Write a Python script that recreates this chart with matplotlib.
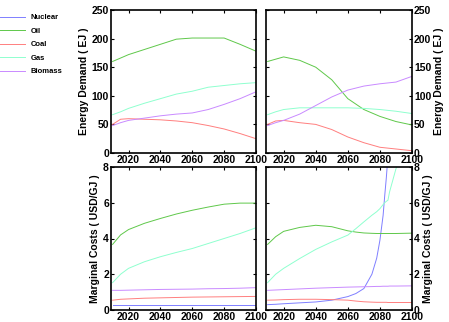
import matplotlib
matplotlib.use("Agg")
import matplotlib.pyplot as plt

plt.rcParams['font.family'] = ['Liberation Sans', 'DejaVu Sans']
plt.rcParams['font.weight'] = 'bold'

series_names = ["Nuclear", "Oil", "Coal", "Gas", "Biomass"]
colors = {"Nuclear": "#7f7fff", "Oil": "#5fc84a", "Coal": "#ff7f7f",
          "Gas": "#8fffcf", "Biomass": "#c98aff"}

# Energy demand (EJ) - left scenario
ed_left_years = [2010, 2015, 2020, 2030, 2040, 2050, 2060, 2070, 2080, 2090, 2100]
ed_left = {
    "Oil":     [160, 166, 172, 181, 190, 199, 201, 201, 201, 190, 178],
    "Coal":    [50, 59, 60, 59, 58, 56, 53, 48, 42, 34, 25],
    "Gas":     [67, 72, 78, 87, 95, 103, 108, 115, 118, 121, 123],
    "Biomass": [48, 53, 57, 61, 65, 68, 70, 76, 85, 95, 107],
}
# Energy demand (EJ) - right scenario
ed_right_years = [2010, 2015, 2020, 2030, 2040, 2050, 2060, 2070, 2080, 2090, 2100]
ed_right = {
    "Oil":     [160, 164, 168, 162, 150, 128, 95, 76, 64, 55, 49],
    "Coal":    [50, 56, 57, 53, 50, 41, 28, 18, 10, 7, 4],
    "Gas":     [67, 72, 76, 79, 79, 79, 79, 78, 76, 73, 69],
    "Biomass": [48, 53, 57, 68, 83, 98, 110, 117, 121, 124, 134],
}
# Marginal costs (USD/GJ) - left scenario
mc_left_years = [2010, 2015, 2020, 2030, 2040, 2050, 2060, 2070, 2080, 2090, 2100]
mc_left = {
    "Nuclear": [0.28, 0.28, 0.28, 0.28, 0.28, 0.28, 0.28, 0.28, 0.28, 0.28, 0.28],
    "Oil":     [3.67, 4.2, 4.5, 4.85, 5.12, 5.37, 5.58, 5.76, 5.92, 5.98, 5.98],
    "Coal":    [0.55, 0.6, 0.62, 0.66, 0.68, 0.7, 0.72, 0.73, 0.74, 0.75, 0.76],
    "Gas":     [1.53, 2.0, 2.33, 2.7, 2.98, 3.22, 3.44, 3.72, 4.0, 4.28, 4.6],
    "Biomass": [1.1, 1.1, 1.11, 1.13, 1.15, 1.16, 1.17, 1.19, 1.2, 1.22, 1.25],
}
# Marginal costs (USD/GJ) - right scenario
mc_right_years = [2010, 2015, 2020, 2030, 2040, 2050, 2060, 2065, 2070, 2075, 2078, 2080, 2082, 2083, 2084, 2085, 2086, 2090, 2100]
mc_right = {
    "Nuclear": [0.3, 0.32, 0.35, 0.4, 0.45, 0.55, 0.75, 0.92, 1.2, 2.0, 2.9, 3.9, 5.3, 6.4, 7.4, 8.6, 10.0, 16.0, 30.0],
    "Oil":     [3.67, 4.1, 4.4, 4.62, 4.74, 4.66, 4.43, 4.36, 4.31, 4.29, 4.28, 4.28, 4.28, 4.28, 4.28, 4.28, 4.28, 4.28, 4.3],
    "Coal":    [0.55, 0.56, 0.58, 0.6, 0.6, 0.58, 0.55, 0.5, 0.46, 0.44, 0.43, 0.43, 0.43, 0.43, 0.43, 0.42, 0.42, 0.42, 0.42],
    "Gas":     [1.53, 2.0, 2.33, 2.88, 3.39, 3.81, 4.19, 4.55, 4.93, 5.3, 5.5, 5.67, 5.9, 6.0, 6.08, 6.14, 6.6, 7.9, 10.0],
    "Biomass": [1.1, 1.12, 1.14, 1.18, 1.22, 1.25, 1.28, 1.29, 1.3, 1.31, 1.32, 1.32, 1.33, 1.33, 1.33, 1.33, 1.34, 1.34, 1.35],
}

xticks = [2020, 2040, 2060, 2080, 2100]
ed_ticks = [0, 50, 100, 150, 200, 250]
mc_ticks = [0, 2, 4, 6, 8]

W, H = 449, 322
fig = plt.figure(figsize=(W / 100, H / 100), dpi=100)

def rect(x0, y0, x1, y1):
    return [x0 / W, 1 - y1 / H, (x1 - x0) / W, (y1 - y0) / H]

ax_tl = fig.add_axes(rect(111, 10, 256, 153))
ax_tr = fig.add_axes(rect(266, 10, 412, 153))
ax_bl = fig.add_axes(rect(111, 167, 256, 310))
ax_br = fig.add_axes(rect(266, 167, 412, 310))

fs = 7.5
lw = 0.7

def plot_panel(ax, years, data, ylim, yticks, right=False):
    handles = []
    for name in series_names:
        if name in data:
            h, = ax.plot(years, data[name], color=colors[name], lw=lw, label=name)
            handles.append(h)
    ax.set_xlim(2009, 2100)
    ax.set_ylim(*ylim)
    ax.set_xticks(xticks)
    ax.set_yticks(yticks)
    ax.tick_params(direction='in', length=2, width=0.8, top=True, right=True,
                   labelsize=fs, pad=1.5)
    if right:
        ax.tick_params(labelleft=False, labelright=True)
    for lab in ax.get_xticklabels() + ax.get_yticklabels():
        lab.set_fontweight('bold')
    for s in ax.spines.values():
        s.set_linewidth(1.2)
    return handles

plot_panel(ax_tl, ed_left_years, ed_left, (0, 250), ed_ticks)
plot_panel(ax_tr, ed_right_years, ed_right, (0, 250), ed_ticks, right=True)
handles = plot_panel(ax_bl, mc_left_years, mc_left, (0, 8), mc_ticks)
plot_panel(ax_br, mc_right_years, mc_right, (0, 8), mc_ticks, right=True)

lab_fs = 7.5
ax_tl.set_ylabel("Energy Demand ( EJ )", fontsize=lab_fs, fontweight='bold', labelpad=2)
ax_bl.set_ylabel("Marginal Costs ( USD/GJ )", fontsize=lab_fs, fontweight='bold', labelpad=2)
ax_tr.yaxis.set_label_position('right')
ax_tr.set_ylabel("Energy Demand ( EJ )", fontsize=lab_fs, fontweight='bold', labelpad=2)
ax_br.yaxis.set_label_position('right')
ax_br.set_ylabel("Marginal Costs ( USD/GJ )", fontsize=lab_fs, fontweight='bold', labelpad=2)

fig.legend(handles, series_names, loc='upper left', bbox_to_anchor=(0.0, 1 - 14 / H),
           frameon=False, handlelength=3.3, handletextpad=0.7,
           labelspacing=0.8, borderpad=0, borderaxespad=0,
           prop={'weight': 'bold', 'size': 5.5})

fig.savefig("out.png", dpi=100)
